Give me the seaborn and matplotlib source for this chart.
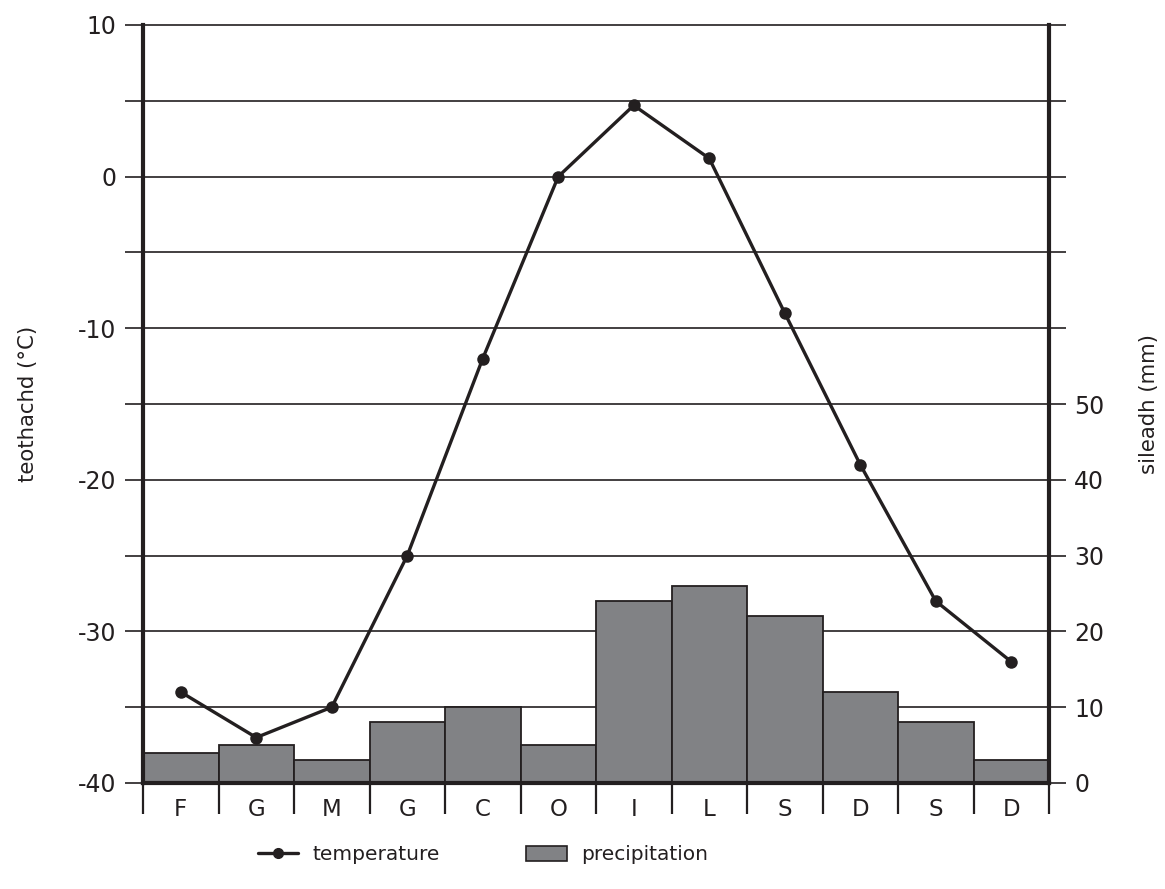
import matplotlib
matplotlib.use('Agg')
import matplotlib.pyplot as plt
import seaborn as sns
from matplotlib.lines import Line2D
from matplotlib.patches import Patch

# Data
months = ['F', 'G', 'M', 'G', 'C', 'O', 'I', 'L', 'S', 'D', 'S', 'D']
temperature = [-34, -37, -35, -25, -12, 0, 4.7, 1.2, -9, -19, -28, -32]
precipitation = [4, 5, 3, 8, 10, 5, 24, 26, 22, 12, 8, 3]
pos = list(range(len(months)))

temp_ticks = list(range(-40, 11, 5))
temp_labels = [str(t) if t % 10 == 0 else '' for t in temp_ticks]
precip_ticks = list(range(0, 101, 10))
precip_labels = [str(p) if p <= 50 else '' for p in precip_ticks]

sns.set_style('white')
plt.rcParams['font.family'] = ['DejaVu Sans']

BAR = '#818285'
INK = '#231f20'

fig = plt.figure(figsize=(11.65, 8.89), dpi=100)
ax = fig.add_axes([143 / 1165, 1 - 783 / 889, 906 / 1165, 758 / 889])
ax2 = ax.twinx()

# Precipitation bars (main axis, right scale)
sns.barplot(x=pos, y=precipitation, ax=ax, width=1, color=BAR,
            edgecolor=INK, linewidth=1.3, saturation=1, zorder=2)
ax.set_xlim(-0.5, 11.5)
ax.set_ylim(0, 100)
ax.set_yticks(precip_ticks)
ax.set_yticklabels(precip_labels)
ax.yaxis.tick_right()
ax.yaxis.set_label_position('right')
ax.set_ylabel('sileadh (mm)', fontsize=15.3, color=INK, labelpad=25)
ax.grid(axis='y', color=INK, linewidth=1.2)
for gl in ax.get_ygridlines():
    gl.set_clip_on(False)
ax.set_axisbelow(True)
ax.tick_params(axis='y', which='both', direction='out', length=12, width=1.2,
               colors=INK, labelsize=17, pad=6, right=True, left=False,
               labelright=True, labelleft=False)

# category boundary ticks below the axis, labels centred between them
ax.set_xticks([p - 0.5 for p in pos] + [11.5])
ax.set_xticklabels([])
ax.set_xticks(pos, minor=True)
ax.set_xticklabels(months, minor=True, fontsize=16.5, color=INK)
ax.tick_params(axis='x', which='major', direction='out', length=22, width=1.6,
               colors=INK, bottom=True)
ax.tick_params(axis='x', which='minor', length=0, pad=11, bottom=True)
ax.set_xlabel('')

for side in ['left', 'right', 'bottom']:
    ax.spines[side].set_visible(True)
    ax.spines[side].set_color(INK)
    ax.spines[side].set_linewidth(3)
ax.spines['top'].set_visible(False)

# Temperature line (twin axis, left scale)
sns.lineplot(x=pos, y=temperature, ax=ax2, color=INK, linewidth=2.4,
             marker='o', markersize=9, markeredgewidth=0)
ax2.set_ylim(-40, 10)
ax2.set_yticks(temp_ticks)
ax2.set_yticklabels(temp_labels)
ax2.yaxis.tick_left()
ax2.yaxis.set_label_position('left')
ax2.set_ylabel('teothachd (°C)', fontsize=15.3, color=INK, labelpad=29)
ax2.tick_params(axis='y', direction='out', length=13, width=1.2, colors=INK,
                labelsize=17, pad=6, left=True, right=False,
                labelleft=True, labelright=False)
for side in ax2.spines:
    ax2.spines[side].set_visible(False)
ax2.grid(False)

handles = [
    Line2D([0], [0], color=INK, linewidth=2.4, marker='o', markersize=7),
    Patch(facecolor=BAR, edgecolor=INK, linewidth=1.2),
]
fig.legend(handles, ['temperature', 'precipitation'], loc='center left',
           bbox_to_anchor=(248 / 1165, 1 - 855 / 889), ncol=2, frameon=False,
           fontsize=14.5, handlelength=2.0, handletextpad=0.7,
           columnspacing=4.3, borderpad=0, labelcolor=INK)

fig.savefig('out.png', dpi=100)
